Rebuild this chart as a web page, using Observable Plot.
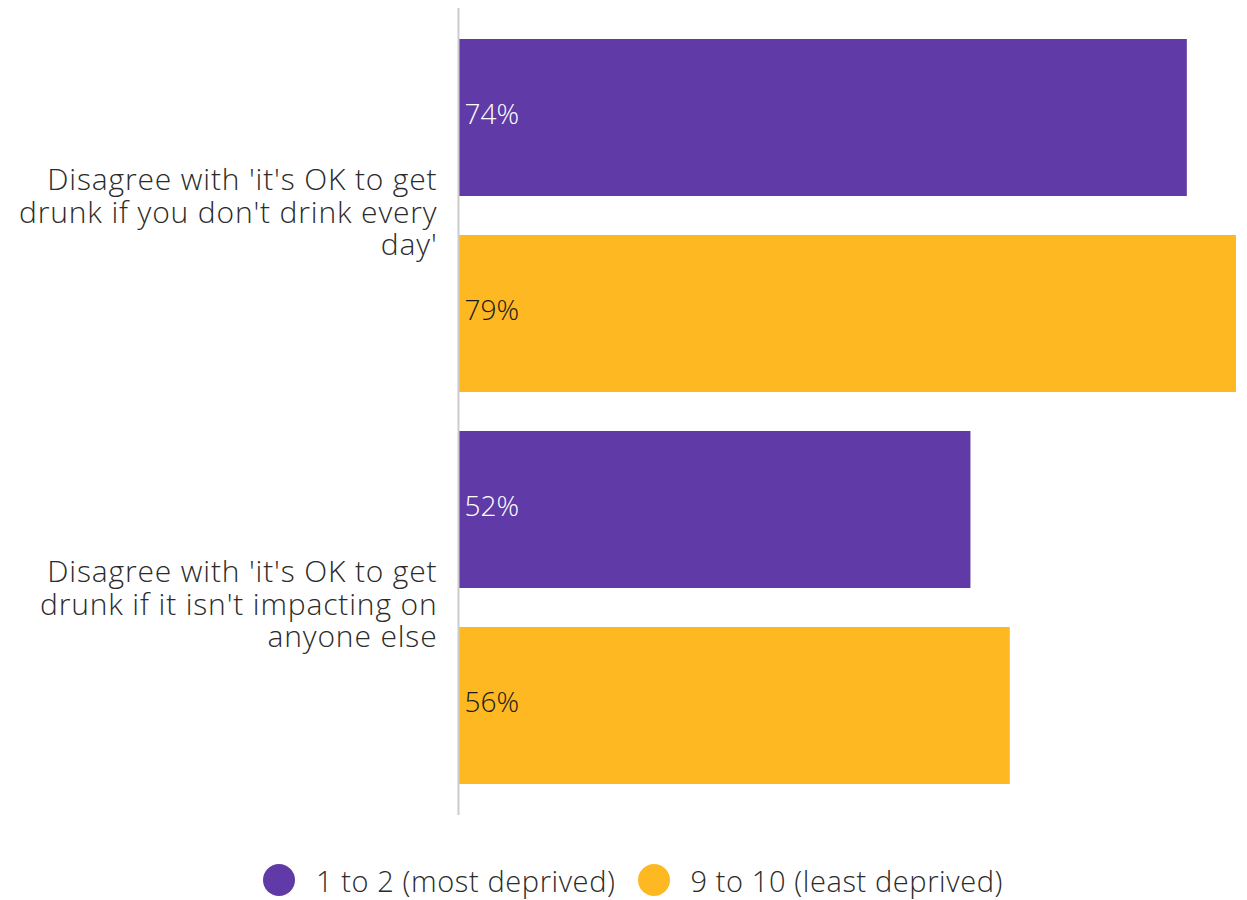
<!DOCTYPE html>
<html>
<head>
<meta charset="utf-8">
<script src="https://cdn.jsdelivr.net/npm/d3@7"></script>
<script src="https://cdn.jsdelivr.net/npm/@observablehq/plot@0.6"></script>
<style>
  body { margin: 0; background: #fff; font-family: "Open Sans", sans-serif; }
  #chart svg { display: block; }
  .legend { display: flex; justify-content: center; align-items: center; height: 100px; padding-left: 19px; font-family: "Open Sans", sans-serif; font-size: 29px; line-height: 1; font-weight: 300; letter-spacing: 0.6px; color: #2b2b2b; }
  .legend .item { display: flex; align-items: center; margin: 0 11px; }
  .legend .dot { width: 32px; height: 32px; border-radius: 50%; margin-right: 21px; }
</style>
</head>
<body>
<div id="chart"></div>
<div class="legend" id="legend"></div>
<script>
const categories = [
  "Disagree with 'it's OK to get\ndrunk if you don't drink every\nday'",
  "Disagree with 'it's OK to get\ndrunk if it isn't impacting on\nanyone else"
];
const series = ["1 to 2 (most deprived)", "9 to 10 (least deprived)"];
const mostDeprived = [74, 52];
const leastDeprived = [79, 56];
const colors = ["#603AA6", "#FDB822"];
const labelColors = ["#ffffff", "#1a1a1a"];

const values = [mostDeprived, leastDeprived];
const data = [];
categories.forEach((c, ci) => {
  series.forEach((s, si) => {
    data.push({category: c, series: s, si, key: ci + "|" + si, value: values[si][ci]});
  });
});
const keys = data.map(d => d.key);
const firstOfGroup = data.filter(d => d.si === 0);

const height = 830, marginTop = 8, marginBottom = 15;
const paddingInner = 0.2, paddingOuter = 0.153;
const step = (height - marginTop - marginBottom) / (keys.length - paddingInner + 2 * paddingOuter);

const spaced = (ls) => (index, scales, values, dims, context, next) => {
  const g = next(index, scales, values, dims, context);
  if (g) g.style.letterSpacing = ls;
  return g;
};

const chart = Plot.plot({
  width: 1247,
  height,
  marginTop,
  marginBottom,
  marginLeft: 459,
  marginRight: 11,
  style: {fontFamily: "'Open Sans', sans-serif"},
  x: {domain: [0, d3.max(data, d => d.value)], axis: null},
  y: {domain: keys, paddingInner, paddingOuter, axis: null},
  color: {domain: series, range: colors},
  marks: [
    Plot.barX(data, {x: "value", y: "key", fill: "series"}),
    Plot.ruleX([0], {stroke: "#cccccc", strokeWidth: 2, dx: -1}),
    Plot.text(data, {
      x: 0, y: "key", text: d => d.value + "%", textAnchor: "start", dx: 5, dy: -3,
      fill: d => labelColors[d.si], fontSize: 28, fontWeight: 300
    }),
    Plot.text(firstOfGroup, {
      x: 0, y: "key", text: "category", textAnchor: "end", dx: -22, dy: step / 2 - 4,
      fill: "#2b2b2b", fontSize: 30, fontWeight: 300, lineHeight: 1.07,
      render: spaced("0.85px")
    })
  ]
});
document.getElementById("chart").appendChild(chart);

const legend = document.getElementById("legend");
series.forEach((s, i) => {
  const item = document.createElement("div");
  item.className = "item";
  const dot = document.createElement("span");
  dot.className = "dot";
  dot.style.background = colors[i];
  const label = document.createElement("span");
  label.textContent = s;
  item.appendChild(dot);
  item.appendChild(label);
  legend.appendChild(item);
});
</script>
</body>
</html>
